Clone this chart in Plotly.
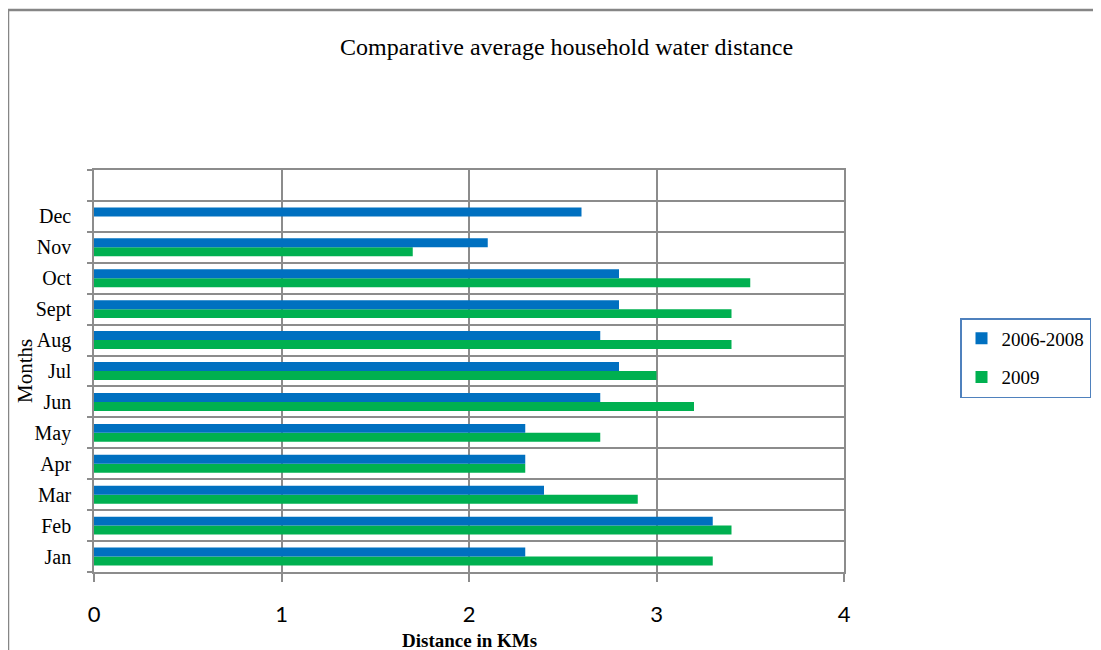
import plotly.graph_objects as go

months = ["Jan", "Feb", "Mar", "Apr", "May", "Jun", "Jul", "Aug", "Sept", "Oct", "Nov", "Dec", " "]
s2006_2008 = [2.3, 3.3, 2.4, 2.3, 2.3, 2.7, 2.8, 2.7, 2.8, 2.8, 2.1, 2.6, None]
s2009 = [3.3, 3.4, 2.9, 2.3, 2.7, 3.2, 3.0, 3.4, 3.4, 3.5, 1.7, None, None]
x_ticks = [0, 1, 2, 3, 4]

# page body margin is ~8px, so the figure is shifted by 8px in the window
OFF = 8
L, R, T, B = 94, 844, 170, 572          # plot area in window pixels
W, H = 1101 - OFF, 650 - OFF


def px(x):
    return (x - L) / (R - L)


def py(y):
    return (B - y) / (B - T)


fig = go.Figure()
fig.add_trace(go.Bar(y=months, x=s2009, orientation="h", name="2009",
                     legendgroup="g2", legendrank=2,
                     marker=dict(color="#00B050", line=dict(width=0))))
fig.add_trace(go.Bar(y=months, x=s2006_2008, orientation="h", name="2006-2008",
                     legendgroup="g1", legendrank=1,
                     marker=dict(color="#0070C0", line=dict(width=0))))

grid = "#8C8C8C"
fig.update_layout(
    width=W, height=H,
    margin=dict(l=L - OFF, r=W - (R - OFF), t=T - OFF, b=H - (B - OFF), pad=0, autoexpand=False),
    paper_bgcolor="white", plot_bgcolor="white",
    barmode="group", bargap=0.42, bargroupgap=0,
    showlegend=True,
    legend=dict(traceorder="grouped", x=px(960), y=py(318), xanchor="left", yanchor="top",
                bordercolor="#4F81BD", borderwidth=1.5, bgcolor="white",
                font=dict(family="Liberation Serif", size=19, color="black"),
                itemwidth=30, tracegroupgap=11),
    xaxis=dict(range=[0, 4], tickvals=x_ticks, showgrid=True, gridcolor=grid, gridwidth=1.5,
               showline=True, linecolor=grid, linewidth=1.5, mirror=True,
               ticks="outside", ticklen=8, tickcolor=grid, tickwidth=1.5,
               ticklabelstandoff=14, zeroline=False,
               tickfont=dict(family="Lato", size=22, color="black"), fixedrange=True),
    yaxis=dict(type="category", categoryorder="array", categoryarray=months,
               range=[-0.5, 12.5], tickson="boundaries", showgrid=True, gridcolor=grid, gridwidth=1.5,
               showline=True, linecolor=grid, linewidth=1.5, mirror=True,
               ticks="outside", ticklen=5, tickcolor=grid, tickwidth=1.5,
               ticklabelstandoff=17,
               tickfont=dict(family="Liberation Serif", size=20, color="black"), fixedrange=True),
    annotations=[
        dict(text="Comparative average household water distance", x=px(566), y=py(47),
             xref="paper", yref="paper", showarrow=False, xanchor="center", yanchor="middle",
             font=dict(family="Liberation Serif", size=24, color="black")),
        dict(text="<b>Distance in KMs</b>", x=px(469), y=py(640),
             xref="paper", yref="paper", showarrow=False, xanchor="center", yanchor="middle",
             font=dict(family="Liberation Serif", size=19, color="black")),
        dict(text="Months", x=px(25), y=py(371), textangle=-90,
             xref="paper", yref="paper", showarrow=False, xanchor="center", yanchor="middle",
             font=dict(family="Liberation Serif", size=21, color="black")),
    ],
    shapes=[dict(type="rect", xref="paper", yref="paper",
                 x0=px(8), x1=px(1120), y0=py(10), y1=py(720),
                 line=dict(color="#868686", width=2.5), layer="below")],
)

fig.write_html("out.html")
